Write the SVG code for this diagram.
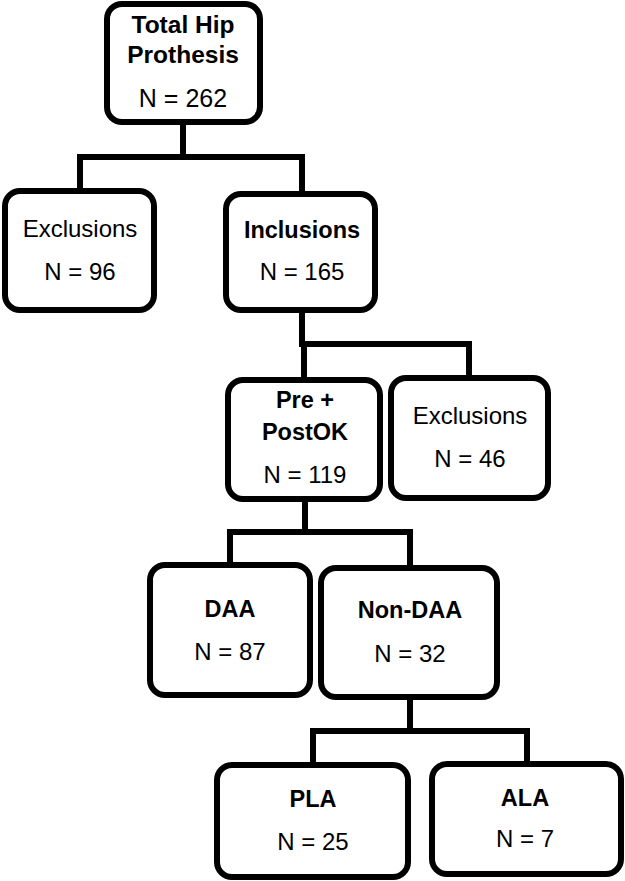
<svg xmlns="http://www.w3.org/2000/svg" width="625" height="881" viewBox="0 0 625 881">
<style>
.box{fill:#fff;stroke:#000;stroke-width:6}
.ln{fill:none;stroke:#000;stroke-width:6;stroke-linejoin:miter;stroke-linecap:square}
text{font-family:"Liberation Sans",Arial,sans-serif;font-size:24px;fill:#000;text-anchor:middle}
.b{font-weight:bold;font-size:23.5px}
</style>
<rect width="625" height="881" fill="#fff"/>
<g id="connectors">
<path class="ln" d="M183,125 V157 M80,157 H302 M80,157 V190 M302,157 V192"/>
<path class="ln" d="M302,313 V344 H469 V375 M304,344 V378"/>
<path class="ln" d="M305,502 V532 M230,532 H410 M230,532 V562 M410,532 V565"/>
<path class="ln" d="M410,700 V731 M313,731 H527 M313,731 V763 M527,731 V762"/>
</g>
<g id="n-total">
<rect class="box" x="107" y="4" width="153" height="118" rx="15"/>
<text class="b" x="183" y="33" style="font-size:24.5px">Total Hip</text>
<text class="b" x="183" y="63" style="font-size:24.5px">Prothesis</text>
<text x="183" y="107" style="font-size:25px">N = 262</text>
</g>
<g id="n-excl1">
<rect class="box" x="5" y="191" width="149" height="119" rx="15"/>
<text x="80" y="237">Exclusions</text>
<text x="80" y="280">N = 96</text>
</g>
<g id="n-incl">
<rect class="box" x="226" y="194" width="149" height="116" rx="15"/>
<text class="b" x="302" y="238">Inclusions</text>
<text x="302" y="280">N = 165</text>
</g>
<g id="n-prepost">
<rect class="box" x="228" y="380" width="152" height="119" rx="15"/>
<text class="b" x="305" y="408">Pre +</text>
<text class="b" x="305" y="440">PostOK</text>
<text x="305" y="483">N = 119</text>
</g>
<g id="n-excl2">
<rect class="box" x="391" y="378" width="157" height="120" rx="15"/>
<text x="470" y="424">Exclusions</text>
<text x="470" y="467">N = 46</text>
</g>
<g id="n-daa">
<rect class="box" x="150" y="565" width="160" height="130" rx="15"/>
<text class="b" x="230" y="617">DAA</text>
<text x="230" y="660">N = 87</text>
</g>
<g id="n-nondaa">
<rect class="box" x="321" y="568" width="176" height="129" rx="15"/>
<text class="b" x="410" y="618">Non-DAA</text>
<text x="410" y="662">N = 32</text>
</g>
<g id="n-pla">
<rect class="box" x="217" y="765" width="191" height="112" rx="15"/>
<text class="b" x="313" y="807">PLA</text>
<text x="313" y="850">N = 25</text>
</g>
<g id="n-ala">
<rect class="box" x="432" y="764" width="189" height="110" rx="15"/>
<text class="b" x="525" y="806">ALA</text>
<text x="525" y="847">N = 7</text>
</g>
</svg>
